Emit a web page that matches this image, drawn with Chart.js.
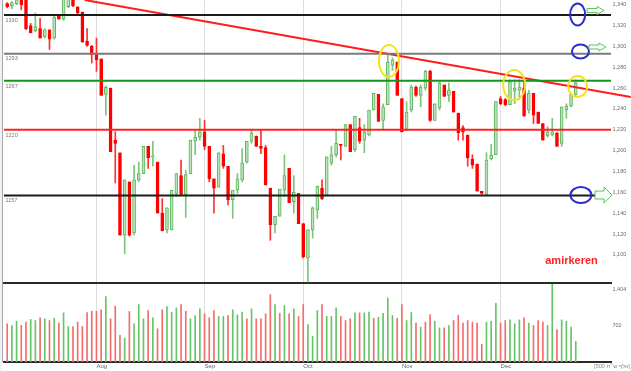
<!DOCTYPE html>
<html>
<head>
<meta charset="utf-8">
<script src="https://cdn.jsdelivr.net/npm/chart.js@4.4.1/dist/chart.umd.min.js"></script>
<style>
  body { margin: 0; background: #fff; width: 631px; height: 371px; overflow: hidden; position: relative; }
  #priceBox { position: absolute; left: 0; top: 0; width: 631px; height: 284px; }
  #volBox { position: absolute; left: 0; top: 284px; width: 631px; height: 87px; }
</style>
</head>
<body>
<div id="priceBox"><canvas id="priceChart"></canvas></div>
<div id="volBox"><canvas id="volChart"></canvas></div>
<script>
// daily candles, index 0 = first day shown
const openP = [1341,1339,1341,1346,1350,1320,1315,1317,1309,1316,
  1308,1330,1326,1338,1345,1338,1333,1305,1300,1293,
  1288,1254,1260,1210,1198,1119,1170,1121,1172,1178,
  1204,1194,1189,1140,1124,1124,1159,1176,1158,1178,
  1209,1213,1218,1204,1173,1165,1197,1185,1153,1162,
  1172,1189,1209,1214,1204,1203,1164,1129,1137,1162,
  1183,1151,1159,1130,1097,1124,1143,1164,1158,1188,
  1196,1206,1204,1225,1201,1222,1210,1215,1239,1254,
  1229,1244,1282,1285,1250,1220,1239,1261,1253,1260,
  1276,1229,1241,1263,1253,1257,1236,1222,1215,1192,
  1187,1161,1158,1192,1196,1250,1249,1244,1257,1258,
  1260,1239,1255,1237,1226,1214,1215,1217,1207,1239,
  1243,1254];
const highP = [1342,1343,1348,1350,1352,1322,1332,1327,1317,1316,
  1329,1330,1347,1347,1347,1338,1333,1317,1301,1308,
  1288,1262,1260,1218,1198,1172,1170,1186,1189,1204,
  1204,1209,1189,1154,1145,1162,1178,1191,1181,1210,
  1220,1231,1229,1204,1173,1198,1205,1185,1162,1178,
  1202,1209,1220,1214,1220,1205,1164,1137,1163,1196,
  1183,1176,1159,1130,1124,1146,1166,1172,1194,1204,
  1220,1206,1225,1225,1233,1231,1225,1239,1255,1254,
  1245,1293,1289,1285,1250,1247,1263,1262,1263,1277,
  1277,1245,1266,1263,1265,1257,1236,1224,1215,1196,
  1187,1161,1198,1206,1247,1252,1250,1268,1268,1268,
  1268,1258,1255,1237,1226,1223,1231,1217,1242,1245,
  1255,1268];
const lowP = [1337,1336,1340,1335,1316,1313,1314,1308,1308,1297,
  1307,1326,1325,1337,1338,1331,1304,1300,1284,1276,
  1253,1234,1199,1169,1119,1101,1118,1119,1170,1178,
  1183,1185,1140,1123,1121,1124,1156,1158,1136,1178,
  1196,1210,1201,1170,1140,1165,1183,1148,1135,1159,
  1170,1188,1207,1204,1197,1167,1114,1121,1137,1156,
  1150,1140,1130,1097,1074,1116,1135,1153,1158,1186,
  1194,1191,1204,1199,1199,1207,1198,1214,1239,1228,
  1220,1244,1277,1253,1218,1219,1237,1252,1242,1258,
  1228,1229,1239,1252,1247,1237,1210,1210,1185,1183,
  1161,1158,1158,1191,1196,1244,1243,1244,1245,1249,
  1233,1236,1226,1226,1210,1213,1214,1204,1204,1231,
  1242,1253];
const closeP = [1338,1342,1345,1340,1317,1313,1319,1308,1316,1307,
  1328,1326,1345,1346,1339,1332,1304,1301,1292,1287,
  1253,1261,1199,1207,1119,1172,1119,1172,1178,1204,
  1193,1195,1140,1123,1145,1162,1178,1158,1177,1210,
  1213,1218,1204,1173,1164,1198,1185,1153,1162,1173,
  1188,1209,1217,1204,1202,1167,1129,1137,1163,1176,
  1150,1160,1130,1098,1124,1145,1166,1154,1194,1196,
  1207,1205,1225,1199,1233,1209,1218,1239,1255,1228,
  1242,1285,1287,1253,1218,1237,1261,1253,1261,1276,
  1229,1245,1265,1252,1258,1237,1217,1218,1193,1186,
  1161,1159,1191,1196,1247,1245,1244,1266,1260,1261,
  1233,1255,1234,1226,1210,1218,1218,1204,1242,1243,
  1254,1265];

// volume (thousands) and its colour per day: r = down, g = up
const volume = [742,710,793,710,774,826,806,858,839,806,
  851,755,955,690,690,774,690,961,987,987,
  1013,1271,839,1084,516,464,980,742,1116,839,
  1000,858,645,1013,1077,968,1051,1116,987,839,
  903,1032,935,858,1000,884,884,903,1013,916,
  968,839,1032,839,839,935,1309,1116,948,1097,
  935,1032,884,1116,729,497,1000,1116,884,884,
  1051,884,806,839,955,955,955,968,851,871,
  948,1245,903,851,1116,806,961,755,677,774,
  922,793,664,664,710,806,909,755,806,774,
  755,342,774,793,1142,755,806,819,742,819,
  858,755,710,806,774,710,1548,632,819,793,
  677,400];
const volDir = 'rggrrggrgr' + 'grggrrrrrr' + 'rgrrrgrggg' + 'rgrrgggrrg' + 'ggrrrggrgg' +
  'grgrrrrgrg' + 'rgrrgggrgg' + 'grrrgrggrg' + 'gggrrggrgr' + 'rggrgrrrrr' +
  'rrgggrrggg' + 'rgrrrggrgg' + 'gg';

const monthIdx = [19, 42, 63, 84, 105];
const monthNames = ['Aug', 'Sep', 'Oct', 'Nov', 'Dec'];
const priceTicks = [1100,1120,1140,1160,1180,1200,1220,1240,1260,1280,1300,1320,1340];
const volTicks = [702, 1404];

// support / resistance levels and the falling trend line
const levels = [1330, 1293, 1267, 1220, 1157];
const levelColors = ['#1b1b1b', '#7a7a7a', '#13941a', '#ff2020', '#1b1b1b'];
const trendX = [16.5, 132.7];
const trendY = [1344.5, 1251.5];

const xMin = -0.68, xMax = 128.5;

const FONT = "'Liberation Sans', Arial, sans-serif";
Chart.defaults.font.family = FONT;

const idx = openP.map((v, i) => i);
const isUp = i => closeP[i] >= openP[i];

function noPad(s) {
  s.paddingTop = 0; s.paddingBottom = 0; s.paddingLeft = 0; s.paddingRight = 0;
}

// marks drawn on top (positions in data units)
const ovals = [
  {x: 121.4, y: 1330.6, rx: 7.5, ry: 11, c: '#2b2bd0'},
  {x: 122.0, y: 1295.1, rx: 8.5, ry: 7, c: '#2b2bd0'},
  {x: 122.1, y: 1157.4, rx: 10.5, ry: 8, c: '#2b2bd0'},
  {x: 81.25, y: 1286.0, rx: 10, ry: 16, c: '#f3e31e'},
  {x: 107.9, y: 1263.0, rx: 11, ry: 15, c: '#f3e31e'},
  {x: 121.4, y: 1261.5, rx: 9.5, ry: 10.5, c: '#f3e31e'}
];
const arrows = [
  {x: 123.4, y: 1334.4, big: false},
  {x: 123.8, y: 1299.4, big: false},
  {x: 125.1, y: 1157.4, big: true}
];

const priceDecor = {
  id: 'priceDecor',
  afterDraw(chart) {
    const ctx = chart.ctx;
    const xs = chart.scales.x, ys = chart.scales.y;
    ctx.save();
    // left frame
    ctx.fillStyle = '#eef2f6';
    ctx.fillRect(0, 0, 2, chart.height);
    ctx.fillStyle = '#a8a8a8';
    ctx.fillRect(2, 0, 1, chart.height);

    // level captions
    ctx.font = '5.5px ' + FONT;
    ctx.fillStyle = '#777';
    ctx.textBaseline = 'top';
    ctx.textAlign = 'left';
    levels.forEach(lv => {
      ctx.fillText(String(lv), chart.chartArea.left + 1.5, ys.getPixelForValue(lv) + 2.5);
    });

    // ovals
    ctx.lineWidth = 2;
    ovals.forEach(o => {
      ctx.strokeStyle = o.c;
      ctx.beginPath();
      ctx.ellipse(xs.getPixelForValue(o.x), ys.getPixelForValue(o.y), o.rx, o.ry, 0, 0, Math.PI * 2);
      ctx.stroke();
    });

    // arrows
    ctx.lineWidth = 1;
    ctx.strokeStyle = '#62c062';
    ctx.fillStyle = '#f4fff4';
    arrows.forEach(a => {
      const x0 = xs.getPixelForValue(a.x), cy = ys.getPixelForValue(a.y);
      const len = 17, head = a.big ? 8 : 7, hh = a.big ? 8 : 4, sh = a.big ? 4 : 2;
      ctx.beginPath();
      ctx.moveTo(x0, cy - sh);
      ctx.lineTo(x0 + len - head, cy - sh);
      ctx.lineTo(x0 + len - head, cy - hh);
      ctx.lineTo(x0 + len, cy);
      ctx.lineTo(x0 + len - head, cy + hh);
      ctx.lineTo(x0 + len - head, cy + sh);
      ctx.lineTo(x0, cy + sh);
      ctx.closePath();
      ctx.fill();
      ctx.stroke();
    });

    // signature
    ctx.font = 'bold 11px ' + FONT;
    ctx.fillStyle = '#ff2424';
    ctx.textAlign = 'center';
    ctx.textBaseline = 'middle';
    ctx.fillText('amirkeren', xs.getPixelForValue(120.1), ys.getPixelForValue(1094.1));
    ctx.restore();
  }
};

const volDecor = {
  id: 'volDecor',
  afterDraw(chart) {
    const ctx = chart.ctx;
    ctx.save();
    ctx.fillStyle = '#eef2f6';
    ctx.fillRect(0, 0, 2, chart.height);
    ctx.fillStyle = '#a8a8a8';
    ctx.fillRect(2, 0, 1, chart.chartArea.bottom);
    ctx.font = '5.5px ' + FONT;
    ctx.fillStyle = '#8a8a8a';
    ctx.textAlign = 'right';
    ctx.textBaseline = 'middle';
    ctx.fillText('[500 אלף ש״ח]', 630, chart.chartArea.bottom + 4);
    ctx.restore();
  }
};

function xScale(showLabels) {
  return {
    type: 'linear',
    min: xMin,
    max: xMax,
    offset: false,
    afterBuildTicks: s => { s.ticks = monthIdx.map(v => ({value: v})); },
    afterFit: s => { s.height = showLabels ? 9 : 1; noPad(s); },
    ticks: {
      display: showLabels,
      autoSkip: false,
      maxRotation: 0,
      align: 'start',
      padding: 1,
      color: '#666',
      font: {size: 6},
      callback: (v, k) => monthNames[k]
    },
    grid: {color: '#dedede', lineWidth: 1, drawTicks: false, offset: false},
    border: {display: true, color: '#2a2a2a', width: 2}
  };
}

function yScale(min, max, tickList) {
  return {
    type: 'linear',
    position: 'right',
    min: min,
    max: max,
    afterBuildTicks: s => { s.ticks = tickList.map(v => ({value: v})); },
    afterFit: s => { s.width = 20; noPad(s); },
    ticks: {
      color: '#6a6a6a',
      padding: 1.5,
      font: {size: 5.5},
      callback: v => v.toLocaleString('en-US')
    },
    grid: {display: false, drawTicks: false},
    border: {display: false}
  };
}

new Chart(document.getElementById('priceChart'), {
  type: 'bar',
  data: {
    datasets: [
      ...levels.map((lv, k) => ({
        type: 'line',
        data: [{x: xMin, y: lv}, {x: xMax, y: lv}],
        borderColor: levelColors[k],
        borderWidth: 2,
        pointRadius: 0,
        order: 0
      })),
      {
        type: 'line',
        data: trendX.map((x, k) => ({x: x, y: trendY[k]})),
        borderColor: '#ff1c1c',
        borderWidth: 2,
        pointRadius: 0,
        clip: false,
        order: 0
      },
      {
        data: idx.map(i => ({x: i, y: [Math.min(openP[i], closeP[i]), Math.max(openP[i], closeP[i])]})),
        backgroundColor: idx.map(i => isUp(i) ? '#b9e3b9' : '#ff0000'),
        borderColor: idx.map(i => isUp(i) ? '#5db55d' : '#ff0000'),
        borderWidth: 1,
        borderSkipped: false,
        barThickness: 3,
        minBarLength: 1,
        grouped: false,
        order: 1
      },
      {
        data: idx.map(i => ({x: i, y: [lowP[i], highP[i]]})),
        backgroundColor: idx.map(i => isUp(i) ? '#7cc57c' : '#ff3030'),
        barThickness: 1,
        grouped: false,
        order: 2
      }
    ]
  },
  options: {
    responsive: true,
    maintainAspectRatio: false,
    animation: false,
    devicePixelRatio: 1,
    layout: {padding: {left: 4, right: 0, top: 0, bottom: 0}},
    plugins: {legend: {display: false}, tooltip: {enabled: false}},
    scales: {
      x: xScale(false),
      y: yScale(1073, 1344.5, priceTicks)
    }
  },
  plugins: [priceDecor]
});

new Chart(document.getElementById('volChart'), {
  type: 'bar',
  data: {
    datasets: [{
      data: idx.map(i => ({x: i, y: volume[i]})),
      backgroundColor: idx.map(i => volDir[i] === 'g' ? '#66c466' : '#f46c6c'),
      barThickness: 1,
      grouped: false
    }]
  },
  options: {
    responsive: true,
    maintainAspectRatio: false,
    animation: false,
    devicePixelRatio: 1,
    layout: {padding: {left: 4, right: 0, top: 0, bottom: 0}},
    plugins: {legend: {display: false}, tooltip: {enabled: false}},
    scales: {
      x: xScale(true),
      y: yScale(0, 1516, volTicks)
    }
  },
  plugins: [volDecor]
});
</script>
</body>
</html>
